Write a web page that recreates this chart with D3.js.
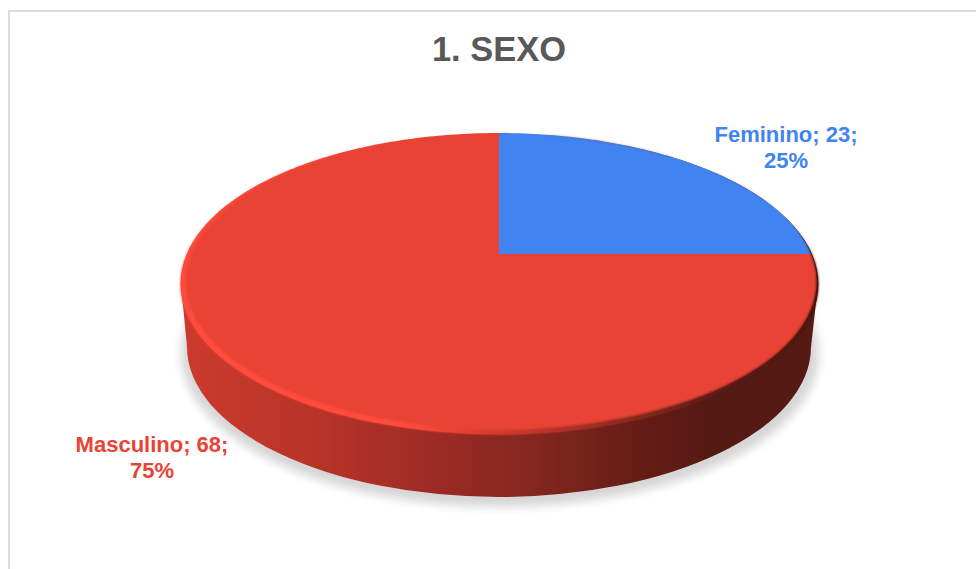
<!DOCTYPE html>
<html lang="es">
<head>
<meta charset="UTF-8">
<title>1. SEXO</title>
<script src="https://d3js.org/d3.v7.min.js"></script>
<style>
    html, body { margin: 0; padding: 0; background: #fff; overflow: hidden; }
    svg { display: block; }
    text { font-family: "Liberation Sans", Arial, sans-serif; font-weight: bold; text-anchor: middle; }
</style>
</head>
<body>
<div id="chart"></div>
<script>
// Chart data
const categories = ["Feminino", "Masculino"];
const counts = [23, 68];
const shares = [25, 75];
const sliceColors = ["#4184f1", "#e94335"];
const chartTitle = "1. SEXO";

const width = 976, height = 569;
const svg = d3.select("#chart").append("svg")
    .attr("width", width).attr("height", height);
const defs = svg.append("defs");

// horizontal gradients for the wall and the rim of the disc
function hGradient(id, stops) {
    const g = defs.append("linearGradient").attr("id", id)
        .attr("gradientUnits", "userSpaceOnUse")
        .attr("x1", 181).attr("x2", 818).attr("y1", 0).attr("y2", 0);
    stops.forEach(s => g.append("stop").attr("offset", s[0]).attr("stop-color", s[1]));
}
hGradient("wall", [[0, "#cc3a2d"], [0.2, "#b93429"], [0.4, "#9c2b24"], [0.55, "#84271f"], [0.72, "#651c15"], [0.82, "#561a14"], [1, "#561a14"]]);
hGradient("rim", [[0, "#ff4b3c"], [0.35, "#ff4b3c"], [0.5, "#d63a2e"], [0.7, "#8a2a20"], [0.85, "#5a1a14"], [1, "#4a1510"]]);
function blur(id, sd) {
    defs.append("filter").attr("id", id).attr("x", "-10%").attr("y", "-10%").attr("width", "120%").attr("height", "120%")
        .append("feGaussianBlur").attr("stdDeviation", sd);
}
blur("soft", 5);
blur("soft1", 0.9);

// chart frame
svg.append("path").attr("d", "M9,569V11H976").attr("fill", "none")
    .attr("stroke", "#dcdcdc").attr("stroke-width", 2);

svg.append("text").attr("x", 499).attr("y", 61)
    .attr("font-size", 34.5).attr("fill", "#595959").text(chartTitle);

// perspective view of the unit disc: the apex sits above the centre of the ellipse
const apex = { x: 499, y: 254 }, faceTop = 133, faceBottom = 431, faceR = 312;
const persp = (2 * apex.y - faceTop - faceBottom) / (faceBottom - faceTop);
const faceA = faceBottom * (1 + persp) - apex.y;
function project(angle) {
    const u = Math.sin(angle), v = -Math.cos(angle), w = 1 + persp * v;
    return [apex.x + faceR * u / w, (faceA * v + apex.y) / w];
}

const arcs = d3.pie().sort(null).value(d => d)(shares);
const line = d3.line();
function slicePath(d) {
    const n = Math.ceil((d.endAngle - d.startAngle) * 60);
    const pts = d3.range(n + 1).map(i => project(d.startAngle + (d.endAngle - d.startAngle) * i / n));
    return line([[apex.x, apex.y], ...pts]) + "Z";
}
function ellipsePath(cx, cy, rx, ry) {
    return `M${cx - rx},${cy}A${rx},${ry} 0 1 0 ${cx + rx},${cy}A${rx},${ry} 0 1 0 ${cx - rx},${cy}Z`;
}

// soft ground shadow
svg.append("ellipse").attr("cx", 500).attr("cy", 354).attr("rx", 319).attr("ry", 153)
    .attr("fill", "#000").attr("opacity", 0.16).attr("filter", "url(#soft)");

// wall: lower ellipse plus the block up to the rim
const wallG = svg.append("g").attr("fill", "url(#wall)");
wallG.append("ellipse").attr("cx", 499).attr("cy", 347).attr("rx", 312).attr("ry", 150);
wallG.append("path").attr("d", d3.line()([[181, 285], [818, 285], [811, 347], [187, 347]]) + "Z");

// solid rim underlay so no background shows between face and wall
svg.append("path")
    .attr("d", ellipsePath(499.5, 284, 319, 150.5))
    .attr("fill", "url(#rim)");

// top face slices
svg.append("g").selectAll("path")
    .data(arcs).enter().append("path")
    .attr("d", slicePath)
    .attr("fill", (d, i) => sliceColors[i]);

// bevelled rim: crescent between the outer outline and the face
svg.append("path")
    .attr("d", ellipsePath(499.5, 284, 319, 150.5) + ellipsePath(501, 281.5, 315.5, 148))
    .attr("fill-rule", "evenodd")
    .attr("fill", "url(#rim)")
    .attr("filter", "url(#soft1)");

// data labels
const labelSpots = [{ x: 786, y: 142 }, { x: 152, y: 452 }];
categories.forEach((c, i) => {
    const t = svg.append("text").attr("font-size", 22).attr("fill", sliceColors[i]);
    t.append("tspan").attr("x", labelSpots[i].x).attr("y", labelSpots[i].y)
        .text(`${c}; ${counts[i]};`);
    t.append("tspan").attr("x", labelSpots[i].x).attr("y", labelSpots[i].y + 26)
        .text(`${shares[i]}%`);
});
</script>
</body>
</html>
